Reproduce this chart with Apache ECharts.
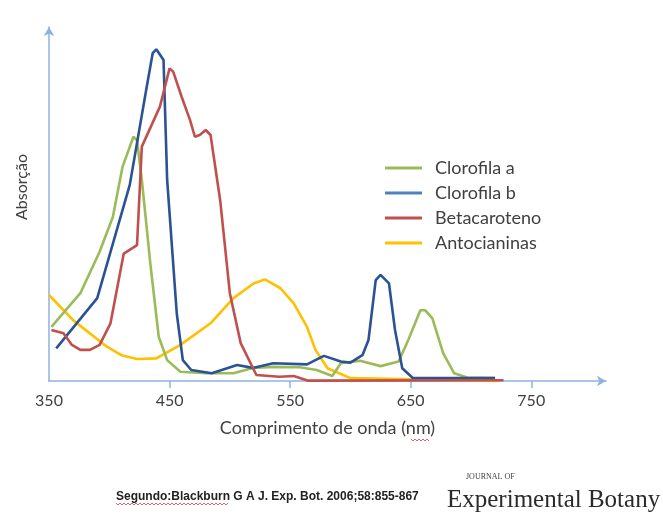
<!DOCTYPE html>
<html>
<head>
<meta charset="utf-8">
<script src="https://cdn.jsdelivr.net/npm/echarts@6/dist/echarts.min.js"></script>
<style>
  html, body { margin: 0; padding: 0; background: #ffffff; }
  #chart { width: 663px; height: 514px; }
</style>
</head>
<body>
<div id="chart"></div>
<script>
// Absorption spectra of plant pigments (relative absorbance vs wavelength in nm)
const seriesNames = ['Clorofila a', 'Clorofila b', 'Betacaroteno', 'Antocianinas'];

const wlClorofilaA = [352, 376, 392, 403, 411, 420, 423, 427, 434, 441, 448, 459, 481, 503, 519, 536, 558, 572, 585, 592, 608, 625, 640, 648, 658, 662, 668, 677, 686, 697, 720];
const absClorofilaA = [15.3, 24.8, 36.5, 46.4, 60.5, 69, 68, 56.8, 33.3, 12.5, 5.9, 2.6, 2.2, 2.2, 3.7, 4.0, 3.9, 3.1, 1.4, 5.0, 5.7, 4.2, 5.5, 11.6, 20, 20, 17.7, 7.8, 2.2, 1.0, 0.8];

const wlClorofilaB = [356, 390, 417, 431, 436, 439, 445, 448, 456, 461, 468, 485, 506, 519, 536, 564, 578, 592, 600, 610, 615, 621, 625, 632, 637, 643, 652, 720];
const absClorofilaB = [9.2, 23.4, 55.4, 83, 92.6, 93.7, 90.7, 56.8, 19, 5.9, 3.1, 2.2, 4.5, 3.7, 5.0, 4.7, 7.1, 5.5, 5.2, 7.3, 11.6, 28.5, 30, 27.6, 14.4, 3.6, 0.8, 0.8];

const wlBetacaroteno = [352, 362, 369, 376, 384, 392, 401, 412, 423, 427, 442, 450, 453, 460, 467, 471, 475, 480, 484, 492, 500, 509, 522, 541, 553, 565, 727];
const absBetacaroteno = [14.4, 13.5, 10.2, 8.8, 8.8, 10.2, 16.3, 36, 38.4, 66.2, 77.5, 88.3, 87.4, 80.3, 73.7, 69, 69.5, 70.9, 69.5, 51, 24.8, 10.7, 1.7, 1.2, 1.4, 0.1, 0.2];

const wlAntocianinas = [350, 370, 398, 410, 423, 439, 459, 484, 503, 520, 529, 542, 553, 564, 571, 581, 600, 722];
const absAntocianinas = [24.3, 17.2, 9.7, 7.3, 6.2, 6.4, 10.2, 16.3, 23.4, 27.6, 28.7, 26.2, 21.9, 15.3, 8.8, 3.6, 0.8, 0];

const xTickLabels = [350, 450, 550, 650, 750];
const xTickMarks = [450, 550, 650, 750];

const lineColors = ['#9BBB59', '#2A5294', '#C0504D', '#FFC000'];
const legendColors = ['#9BBB59', '#4F81BD', '#C0504D', '#FFC000'];

const pair = (xs, ys) => xs.map((x, i) => [x, ys[i]]);
const seriesData = [
  pair(wlClorofilaA, absClorofilaA),
  pair(wlClorofilaB, absClorofilaB),
  pair(wlBetacaroteno, absBetacaroteno),
  pair(wlAntocianinas, absAntocianinas)
];

const axisBlue = '#8DB3E2';
const font = 'Lato, "Open Sans", sans-serif';

// small wavy underline (spell-check style) between x0 and x1 at height y
function squiggle(x0, x1, y) {
  const pts = [];
  let up = true;
  for (let x = x0; x <= x1; x += 2) {
    pts.push([x, up ? y - 1 : y + 1]);
    up = !up;
  }
  return {
    type: 'polyline',
    shape: { points: pts },
    style: { stroke: '#E06666', lineWidth: 1, fill: null }
  };
}

const chart = echarts.init(document.getElementById('chart'), null, { renderer: 'canvas' });

chart.setOption({
  animation: false,
  backgroundColor: '#ffffff',
  grid: { left: 49, top: 27, width: 557, height: 354 },
  legend: {
    orient: 'vertical',
    left: 380,
    top: 154,
    icon: 'rect',
    itemWidth: 37,
    itemHeight: 3,
    itemGap: 7,
    data: seriesNames,
    textStyle: { fontFamily: font, fontSize: 18, color: '#404040', lineHeight: 18, padding: [0, 0, 0, 8] }
  },
  xAxis: {
    type: 'value',
    min: 350,
    max: 812,
    name: 'Comprimento de onda (nm)',
    nameLocation: 'middle',
    nameGap: 38,
    nameTextStyle: { fontFamily: font, fontSize: 18, color: '#404040' },
    axisLine: { show: true, lineStyle: { color: axisBlue, width: 1.5 }, symbol: ['none', 'arrow'], symbolSize: [8, 9] },
    axisTick: { show: true, customValues: xTickMarks, length: 7, lineStyle: { color: axisBlue, width: 1.5 } },
    axisLabel: { customValues: xTickLabels, margin: 12, fontFamily: font, fontSize: 16, color: '#404040' },
    splitLine: { show: false }
  },
  yAxis: {
    type: 'value',
    min: 0,
    max: 100,
    axisLine: { show: true, lineStyle: { color: axisBlue, width: 1.5 }, symbol: ['none', 'arrow'], symbolSize: [8, 9] },
    axisTick: { show: false },
    axisLabel: { show: false },
    splitLine: { show: false }
  },
  series: seriesNames.map((name, i) => ({
    name,
    type: 'line',
    data: seriesData[i],
    showSymbol: false,
    symbol: 'none',
    clip: false,
    z: i === 3 ? 1 : 2,
    itemStyle: { color: legendColors[i] },
    lineStyle: { color: lineColors[i], width: 2.6 }
  })),
  graphic: [
    {
      type: 'text',
      x: 22, y: 187,
      rotation: Math.PI / 2,
      style: { text: 'Absorção', fontFamily: font, fontSize: 16, fill: '#404040', align: 'center', verticalAlign: 'middle' }
    },
    squiggle(411, 429, 440),
    {
      type: 'text',
      x: 116, y: 497,
      style: { text: 'Segundo:Blackburn G A J. Exp. Bot. 2006;58:855-867', fontFamily: 'Liberation Sans, Arial, sans-serif', fontSize: 12, fontWeight: 'bold', fill: '#222222', verticalAlign: 'middle' }
    },
    squiggle(116, 229, 504),
    {
      type: 'text',
      x: 466, y: 477,
      style: { text: 'JOURNAL OF', fontFamily: 'Liberation Serif, serif', fontSize: 8, fill: '#444444', verticalAlign: 'middle' }
    },
    {
      type: 'text',
      x: 447, y: 500,
      style: { text: 'Experimental Botany', fontFamily: 'Liberation Serif, serif', fontSize: 25, fill: '#2a2a2a', verticalAlign: 'middle' }
    }
  ]
});
</script>
</body>
</html>
